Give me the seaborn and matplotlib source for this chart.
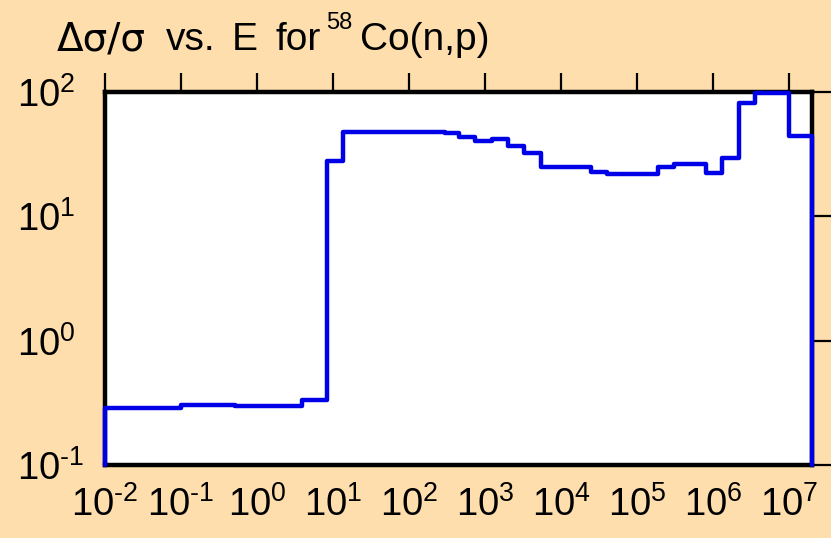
import numpy as np
import pandas as pd
import matplotlib
matplotlib.use("Agg")
import matplotlib.pyplot as plt
import seaborn as sns
from matplotlib.ticker import FuncFormatter, NullLocator

# Energy group boundaries (eV) and relative uncertainty values (%)
edges = [1e-2, 0.1, 0.52, 3.9, 8.3, 13.5, 300, 450, 740, 1230, 2000, 3300, 5460,
         24500, 40700, 186000, 302000, 812000, 1.32e6, 2.2e6, 3.6e6, 1e7, 2e7]
values = [0.289, 0.304, 0.298, 0.333, 28.1, 47.5, 47.0, 43.8, 40.4, 41.7, 37.0, 32.2,
          24.8, 22.9, 21.8, 25.1, 26.4, 22.5, 29.3, 81.3, 99.0, 44.4]
x_ticks = [1e-2, 1e-1, 1e0, 1e1, 1e2, 1e3, 1e4, 1e5, 1e6, 1e7]
y_ticks = [1e-1, 1e0, 1e1, 1e2]
ymin, ymax = 0.1, 100
xmin, xmax = 1e-2, 2e7
title_words = ['Δσ/σ', 'vs.', 'E', 'for', '58', 'Co(n,p)']

sns.set_style("white")
plt.rcParams['font.family'] = ['Liberation Sans', 'DejaVu Sans']
plt.rcParams['mathtext.fontset'] = 'custom'
plt.rcParams['mathtext.rm'] = 'Liberation Sans'
plt.rcParams['mathtext.it'] = 'Liberation Sans:italic'
plt.rcParams['mathtext.bf'] = 'Liberation Sans:bold'
plt.rcParams['mathtext.default'] = 'regular'

bg = '#FDDEAC'
W, H = 831, 538
fig = plt.figure(figsize=(W/100, H/100), dpi=100, facecolor=bg)
ax = fig.add_axes([105/W, 1-465/H, (812-105)/W, (465-92)/H])
ax.set_facecolor('white')

xs = [edges[0]] + edges[:-1] + [edges[-1], edges[-1]]
ys = [ymin] + values + [values[-1], ymin]
df = pd.DataFrame({'E': xs, 'rel': ys})
sns.lineplot(data=df, x='E', y='rel', ax=ax, sort=False, estimator=None,
             drawstyle='steps-post', color='#0000E8', linewidth=3.2, clip_on=False, zorder=3)

ax.set_xscale('log')
ax.set_yscale('log')
ax.set_xlim(xmin, xmax)
ax.set_ylim(ymin, ymax)
ax.set_xticks(x_ticks)
ax.set_yticks(y_ticks)
ax.xaxis.set_minor_locator(NullLocator())
ax.yaxis.set_minor_locator(NullLocator())


def fmt(v, pos):
    e = int(round(np.log10(v)))
    if e < 0:
        return r'$10^{\text{-}%d}$' % (-e)
    return r'$10^{%d}$' % e


ax.xaxis.set_major_formatter(FuncFormatter(fmt))
ax.yaxis.set_major_formatter(FuncFormatter(fmt))
ax.set_xlabel('')
ax.set_ylabel('')

for s in ax.spines.values():
    s.set_visible(True)
    s.set_color('black')
    s.set_linewidth(3.2)
    s.set_zorder(2)

ax.tick_params(axis='both', which='major', direction='out', length=14, width=1.6,
               color='black', labelsize=27.5, labelcolor='black', top=True, right=True,
               labeltop=False, labelright=False)
ax.tick_params(axis='x', pad=1)
ax.tick_params(axis='y', pad=(85-16)*0.72)
for lab in ax.get_yticklabels():
    lab.set_horizontalalignment('left')

# title, word by word
base_y = 1 - 50/H
starts = [57, 166, 232, 275, 326, 360]
for word, x0 in zip(title_words, starts):
    if word == '58':
        fig.text(x0/W, 1 - 29/H, word, fontsize=17, ha='left', va='baseline', color='black')
    elif word == 'Δσ/σ':
        fig.text(x0/W, base_y, word, fontsize=28, ha='left', va='baseline', color='black',
                 family=['DejaVu Sans'])
    else:
        fig.text(x0/W, base_y, word, fontsize=28, ha='left', va='baseline', color='black')

fig.savefig('out.png', dpi=100, facecolor=bg)
